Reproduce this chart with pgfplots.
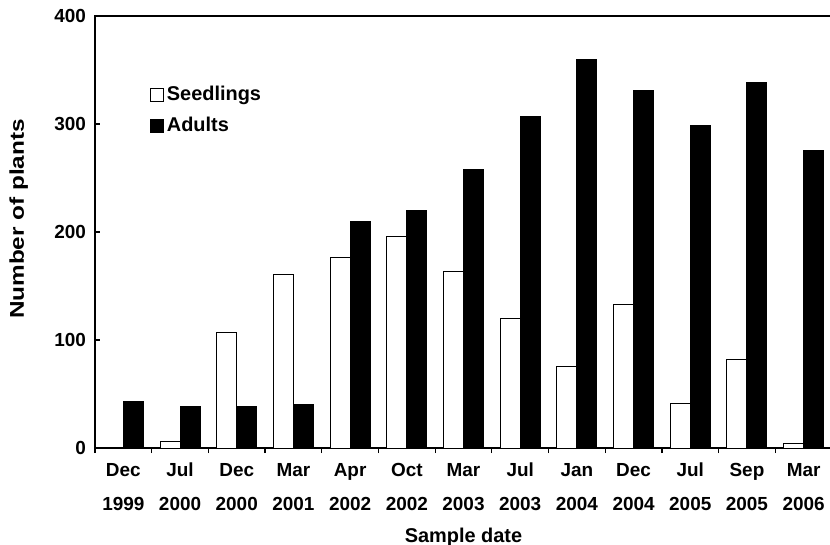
\documentclass[border=0pt]{standalone}
\usepackage{pgfplots}
\pgfplotsset{compat=1.18}
\usepackage{graphicx}
\usepackage{fontspec}
\setmainfont{Liberation Sans}
\newcommand{\tl}[2]{\rule{0pt}{8bp}#1\\\rule{0pt}{8bp}#2}
\begin{document}
\begin{tikzpicture}
\begin{axis}[
  at={(0,0)}, anchor=south west,
  scale only axis, width=368.5bp, height=216bp,
  xmin=-0.5, xmax=12.5, ymin=0, ymax=400,
  ybar=0pt, bar width=10bp,
  axis line style={line width=0.6bp, black},
  tick style={line width=0.6bp, black},
  tick align=outside, tick pos=left,
  major tick length=2.5bp, minor tick length=2.5bp,
  xtick={0,...,12}, major x tick style={draw=none},
  minor xtick={-0.5,0.5,...,12.5},
  ytick={0,100,200,300,400},
  y tick style={xshift=2.5bp},
  xticklabels={{\tl{Dec}{1999}},{\tl{Jul}{2000}},{\tl{Dec}{2000}},{\tl{Mar}{2001}},{\tl{Apr}{2002}},{\tl{Oct}{2002}},{\tl{Mar}{2003}},{\tl{Jul}{2003}},{\tl{Jan}{2004}},{\tl{Dec}{2004}},{\tl{Jul}{2005}},{\tl{Sep}{2005}},{\tl{Mar}{2006}}},
  /pgf/number format/assume math mode=true,
  xticklabel style={align=center, font=\fontsize{9.5}{17.5}\selectfont\bfseries, anchor=north, yshift=0bp},
  yticklabel style={font=\fontsize{9.5}{11}\selectfont\bfseries, xshift=1.5bp},
  xlabel={Sample date},
  ylabel={\scalebox{1.22}[1]{Number of plants}},
  xlabel style={at={(rel axis cs:0.5,0)}, anchor=center, yshift=-44.5bp, font=\fontsize{10}{12}\selectfont\bfseries},
  ylabel style={at={(axis description cs:-0.1035,0.53)}, anchor=center, rotate=0, font=\fontsize{10}{12}\selectfont\bfseries},
  legend style={at={(0.074,0.846)}, anchor=north west, draw=none, fill=none, inner sep=0pt,
    font=\fontsize{10}{12}\selectfont\bfseries, row sep=3bp,
    nodes={inner sep=1.5bp, text height=7.5bp, text depth=2bp}},
  legend cell align=left,
  legend image code/.code={\draw[#1] (0bp,-3.25bp) rectangle (6.5bp,3.25bp);},
]
\addplot[draw=black, fill=white, line width=0.5bp] coordinates {
(0,0) (1,6) (2,107) (3,161) (4,176) (5,196) (6,163) (7,120) (8,75) (9,133) (10,41) (11,82) (12,4)};
\addplot[draw=black, fill=black, line width=0.5bp] coordinates {
(0,43) (1,38) (2,38) (3,40) (4,210) (5,220) (6,258) (7,307) (8,360) (9,331) (10,299) (11,338) (12,275)};
\legend{Seedlings, Adults}
\end{axis}
\pgfresetboundingbox
\path[use as bounding box] (-47.5bp,-48.5bp) rectangle (367.5bp,224bp);
\end{tikzpicture}
\end{document}
